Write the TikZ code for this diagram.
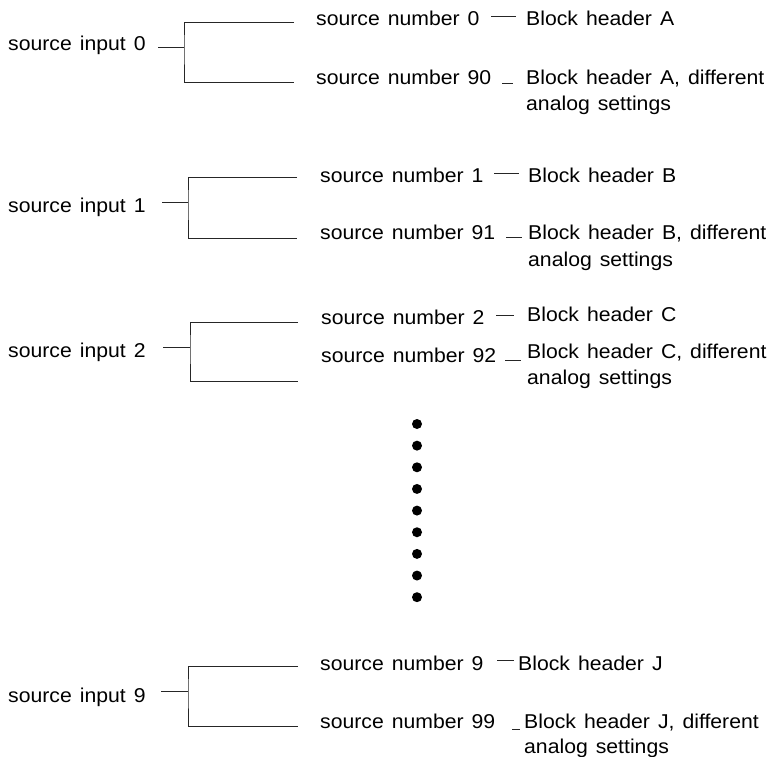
\documentclass[tikz,border=0pt]{standalone}
\usepackage{fontspec}
\setmainfont{Liberation Sans}[FakeStretch=1.06]
\newcommand\fsz{\fontsize{20}{24}\selectfont\spaceskip=8pt plus 2pt minus 1pt\relax}
\begin{document}
\begin{tikzpicture}[x=1pt,y=-1pt,
  txt/.style={anchor=base west, inner sep=0pt, font=\fsz},
  ln/.style={line width=0.9pt, black!85},
  dot/.style={circle, fill=black, inner sep=0pt, minimum size=10pt}]
\useasboundingbox (0,0) rectangle (772,757);

% ---------- group A ----------
\node[txt] (inA) at (8,51) {source input 0};
\coordinate (sA) at (158,47); \coordinate (jA) at (184,47);
\coordinate (tA) at (294,22); \coordinate (bA) at (294,82);
\draw[ln] (sA) -- (jA);
\draw[ln] (tA) -| (jA) |- (bA);
\node[txt] (nA1) at (316,26) {source number 0};
\node[txt] (nA2) at (316,85) {source number 90};
\node[txt] (hA1) at (526,26) {Block header A};
\node[txt] (hA2) at (526,85) {Block header A, different};
\node[txt] (hA3) at (526,111) {analog settings};
\coordinate (dA1) at (491,16); \coordinate (eA1) at (516,16);
\coordinate (dA2) at (502,83); \coordinate (eA2) at (513,83);
\draw[ln] (dA1) -- (eA1);
\draw[ln] (dA2) -- (eA2);

% ---------- group B ----------
\node[txt] (inB) at (8,213) {source input 1};
\coordinate (sB) at (162,202); \coordinate (jB) at (188,202);
\coordinate (tB) at (297,177); \coordinate (bB) at (297,238);
\draw[ln] (sB) -- (jB);
\draw[ln] (tB) -| (jB) |- (bB);
\node[txt] (nB1) at (320,183) {source number 1};
\node[txt] (nB2) at (320,240) {source number 91};
\node[txt] (hB1) at (528,183) {Block header B};
\node[txt] (hB2) at (528,240) {Block header B, different};
\node[txt] (hB3) at (528,266) {analog settings};
\coordinate (dB1) at (494,173); \coordinate (eB1) at (519,173);
\coordinate (dB2) at (506,237); \coordinate (eB2) at (522,237);
\draw[ln] (dB1) -- (eB1);
\draw[ln] (dB2) -- (eB2);

% ---------- group C ----------
\node[txt] (inC) at (8,357) {source input 2};
\coordinate (sC) at (163,347); \coordinate (jC) at (190,347);
\coordinate (tC) at (298,322); \coordinate (bC) at (298,381);
\draw[ln] (sC) -- (jC);
\draw[ln] (tC) -| (jC) |- (bC);
\node[txt] (nC1) at (321,324) {source number 2};
\node[txt] (nC2) at (321,362) {source number 92};
\node[txt] (hC1) at (527,321) {Block header C};
\node[txt] (hC2) at (527,358) {Block header C, different};
\node[txt] (hC3) at (527,384) {analog settings};
\coordinate (dC1) at (496,315); \coordinate (eC1) at (514,315);
\coordinate (dC2) at (505,360); \coordinate (eC2) at (521,360);
\draw[ln] (dC1) -- (eC1);
\draw[ln] (dC2) -- (eC2);

% ---------- dots ----------
\foreach \i in {0,...,8} {
  \node[dot] (dot\i) at (417,{424+21.65*\i}) {};
}

% ---------- group J ----------
\node[txt] (inJ) at (8,702) {source input 9};
\coordinate (sJ) at (161,691); \coordinate (jJ) at (188,691);
\coordinate (tJ) at (298,666); \coordinate (bJ) at (298,726);
\draw[ln] (sJ) -- (jJ);
\draw[ln] (tJ) -| (jJ) |- (bJ);
\node[txt] (nJ1) at (320,670) {source number 9};
\node[txt] (nJ2) at (320,728) {source number 99};
\node[txt] (hJ1) at (518,670) {Block header J};
\node[txt] (hJ2) at (524,728) {Block header J, different};
\node[txt] (hJ3) at (524,753) {analog settings};
\coordinate (dJ1) at (497,660); \coordinate (eJ1) at (514,660);
\coordinate (dJ2) at (512,729); \coordinate (eJ2) at (520,729);
\draw[ln] (dJ1) -- (eJ1);
\draw[ln] (dJ2) -- (eJ2);
\end{tikzpicture}
\end{document}
